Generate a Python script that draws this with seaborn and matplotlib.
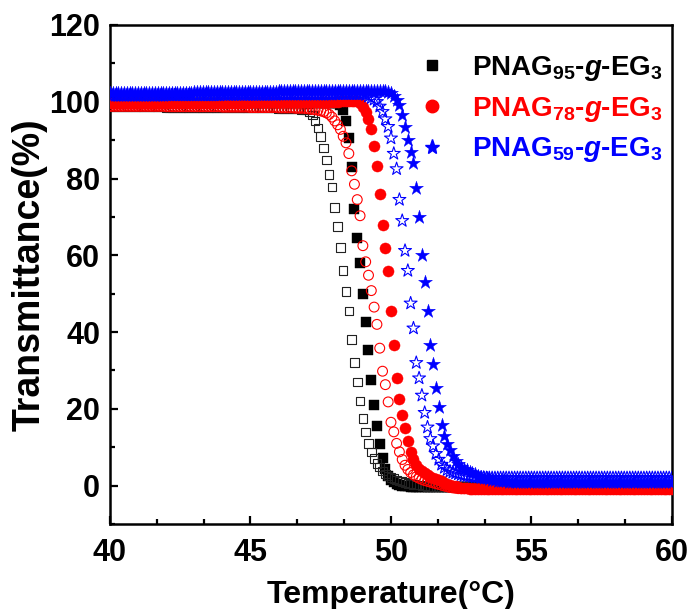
import numpy as np
import pandas as pd
import matplotlib
matplotlib.use("Agg")
import matplotlib.pyplot as plt
from matplotlib.lines import Line2D
from matplotlib.ticker import AutoMinorLocator
import seaborn as sns

# ---------------- data ----------------
# temperature sampling grid: 40.0 ... 60.0 °C every 0.1 °C (201 points)
temperature = np.round(np.linspace(40.0, 60.0, 201), 1)

# PNAG95-g-EG3, filled squares
black_filled = [
    99.6, 99.6, 99.6, 99.6, 99.6, 99.6, 99.6, 99.6, 99.6, 99.6,   # 40
    99.6, 99.6, 99.6, 99.6, 99.6, 99.6, 99.6, 99.6, 99.6, 99.6,   # 41
    99.7, 99.7, 99.7, 99.7, 99.7, 99.7, 99.7, 99.7, 99.7, 99.7,   # 42
    99.7, 99.7, 99.7, 99.7, 99.7, 99.7, 99.7, 99.7, 99.7, 99.7,   # 43
    99.7, 99.7, 99.7, 99.7, 99.7, 99.7, 99.7, 99.7, 99.7, 99.7,   # 44
    99.8, 99.8, 99.8, 99.8, 99.8, 99.8, 99.8, 99.8, 99.8, 99.8,   # 45
    99.8, 99.8, 99.8, 99.8, 99.8, 99.8, 99.8, 99.8, 99.8, 99.8,   # 46
    99.8, 99.8, 99.8, 99.8, 99.8, 99.8, 99.8, 99.8, 99.8, 99.8,   # 47
    99.8, 99.6, 99.2, 97.8, 95.0, 90.5, 83.0, 72.0, 64.5, 58.0,   # 48
    50.0, 42.6, 35.3, 27.5, 21.0, 15.5, 10.8, 7.2, 4.3, 2.4,      # 49
    1.5, 0.9, 0.5, 0.2, 0.0, -0.1, -0.2, -0.3, -0.3, -0.4,        # 50
    -0.4, -0.4, -0.4, -0.4, -0.4, -0.4, -0.4, -0.4, -0.4, -0.4,   # 51
    -0.4, -0.4, -0.4, -0.4, -0.4, -0.4, -0.4, -0.4, -0.4, -0.4,   # 52
    -0.4, -0.4, -0.4, -0.4, -0.4, -0.4, -0.4, -0.4, -0.4, -0.4,   # 53
    -0.4, -0.4, -0.4, -0.4, -0.4, -0.4, -0.4, -0.4, -0.4, -0.4,   # 54
    -0.4, -0.4, -0.4, -0.4, -0.4, -0.4, -0.4, -0.4, -0.4, -0.4,   # 55
    -0.4, -0.4, -0.4, -0.4, -0.4, -0.4, -0.4, -0.4, -0.4, -0.4,   # 56
    -0.4, -0.4, -0.4, -0.4, -0.4, -0.4, -0.4, -0.4, -0.4, -0.4,   # 57
    -0.4, -0.4, -0.4, -0.4, -0.4, -0.4, -0.4, -0.4, -0.4, -0.4,   # 58
    -0.4, -0.4, -0.4, -0.4, -0.4, -0.4, -0.4, -0.4, -0.4, -0.4,   # 59
    -0.4,                                                         # 60
]

# PNAG95-g-EG3, open squares
black_open = [
    98.6, 98.6, 98.6, 98.6, 98.6, 98.6, 98.6, 98.6, 98.6, 98.6,   # 40
    98.6, 98.6, 98.6, 98.6, 98.6, 98.6, 98.6, 98.6, 98.6, 98.6,   # 41
    98.5, 98.5, 98.5, 98.5, 98.5, 98.5, 98.5, 98.5, 98.5, 98.5,   # 42
    98.5, 98.5, 98.5, 98.5, 98.5, 98.5, 98.5, 98.5, 98.5, 98.5,   # 43
    98.4, 98.4, 98.4, 98.4, 98.4, 98.4, 98.4, 98.4, 98.4, 98.4,   # 44
    98.4, 98.4, 98.4, 98.4, 98.4, 98.4, 98.4, 98.4, 98.4, 98.4,   # 45
    98.3, 98.3, 98.3, 98.2, 98.2, 98.2, 98.1, 98.1, 98.0, 97.9,   # 46
    97.8, 97.3, 96.6, 95.0, 93.2, 91.0, 88.0, 84.8, 81.0, 77.8,   # 47
    72.5, 67.5, 62.0, 56.0, 50.5, 45.5, 38.0, 32.0, 27.0, 22.0,   # 48
    17.5, 14.0, 11.0, 8.8, 7.0, 5.8, 4.8, 3.8, 3.0, 2.5,          # 49
    2.1, 1.8, 1.5, 1.2, 1.0, 0.8, 0.6, 0.4, 0.3, 0.2,             # 50
    0.1, 0.0, -0.1, -0.2, -0.3, -0.3, -0.3, -0.3, -0.3, -0.3,     # 51
    -0.3, -0.3, -0.3, -0.3, -0.3, -0.3, -0.3, -0.3, -0.3, -0.3,   # 52
    -0.3, -0.3, -0.3, -0.3, -0.3, -0.3, -0.3, -0.3, -0.3, -0.3,   # 53
    -0.3, -0.3, -0.3, -0.3, -0.3, -0.3, -0.3, -0.3, -0.3, -0.3,   # 54
    -0.3, -0.3, -0.3, -0.3, -0.3, -0.3, -0.3, -0.3, -0.3, -0.3,   # 55
    -0.3, -0.3, -0.3, -0.3, -0.3, -0.3, -0.3, -0.3, -0.3, -0.3,   # 56
    -0.3, -0.3, -0.3, -0.3, -0.3, -0.3, -0.3, -0.3, -0.3, -0.3,   # 57
    -0.3, -0.3, -0.3, -0.3, -0.3, -0.3, -0.3, -0.3, -0.3, -0.3,   # 58
    -0.3, -0.3, -0.3, -0.3, -0.3, -0.3, -0.3, -0.3, -0.3, -0.3,   # 59
    -0.3,                                                         # 60
]

# PNAG78-g-EG3, filled circles
red_filled = [
    99.6, 99.6, 99.6, 99.6, 99.6, 99.6, 99.6, 99.6, 99.6, 99.6,   # 40
    99.7, 99.7, 99.7, 99.7, 99.7, 99.7, 99.7, 99.7, 99.7, 99.7,   # 41
    99.7, 99.7, 99.7, 99.7, 99.7, 99.7, 99.7, 99.7, 99.7, 99.7,   # 42
    99.8, 99.8, 99.8, 99.8, 99.8, 99.8, 99.8, 99.8, 99.8, 99.8,   # 43
    99.8, 99.8, 99.8, 99.8, 99.8, 99.8, 99.8, 99.8, 99.8, 99.8,   # 44
    99.9, 99.9, 99.9, 99.9, 99.9, 99.9, 99.9, 99.9, 99.9, 99.9,   # 45
    99.9, 99.9, 99.9, 99.9, 99.9, 99.9, 99.9, 99.9, 99.9, 99.9,   # 46
    100.0, 100.0, 100.0, 100.0, 100.0, 100.0, 100.0, 100.0, 100.0, 100.0,  # 47
    100.0, 100.0, 100.1, 100.1, 100.1, 100.1, 100.1, 100.2, 100.1, 99.6,  # 48
    98.7, 97.3, 95.4, 92.8, 88.5, 83.2, 76.0, 68.0, 62.0, 56.0,   # 49
    45.5, 36.5, 28.0, 22.5, 18.5, 15.0, 11.5, 8.8, 6.8, 5.3,      # 50
    4.4, 3.8, 3.2, 2.7, 2.3, 2.0, 1.7, 1.4, 1.1, 0.8,             # 51
    0.5, 0.2, 0.0, -0.2, -0.4, -0.5, -0.6, -0.7, -0.8, -0.8,      # 52
    -0.8, -0.8, -0.8, -0.8, -0.8, -0.8, -0.8, -0.8, -0.8, -0.8,   # 53
    -0.8, -0.8, -0.8, -0.8, -0.8, -0.8, -0.8, -0.8, -0.8, -0.8,   # 54
    -0.8, -0.8, -0.8, -0.8, -0.8, -0.8, -0.8, -0.8, -0.8, -0.8,   # 55
    -0.8, -0.8, -0.8, -0.8, -0.8, -0.8, -0.8, -0.8, -0.8, -0.8,   # 56
    -0.8, -0.8, -0.8, -0.8, -0.8, -0.8, -0.8, -0.8, -0.8, -0.8,   # 57
    -0.8, -0.8, -0.8, -0.8, -0.8, -0.8, -0.8, -0.8, -0.8, -0.8,   # 58
    -0.8, -0.8, -0.8, -0.8, -0.8, -0.8, -0.8, -0.8, -0.8, -0.8,   # 59
    -0.8,                                                         # 60
]

# PNAG78-g-EG3, open circles
red_open = [
    98.8, 98.8, 98.8, 98.8, 98.8, 98.8, 98.8, 98.8, 98.8, 98.8,   # 40
    98.8, 98.8, 98.8, 98.8, 98.8, 98.8, 98.8, 98.8, 98.8, 98.8,   # 41
    98.7, 98.7, 98.7, 98.7, 98.7, 98.7, 98.7, 98.7, 98.7, 98.7,   # 42
    98.7, 98.7, 98.7, 98.7, 98.7, 98.7, 98.7, 98.7, 98.7, 98.7,   # 43
    98.6, 98.6, 98.6, 98.6, 98.6, 98.6, 98.6, 98.6, 98.6, 98.6,   # 44
    98.5, 98.5, 98.5, 98.5, 98.5, 98.5, 98.5, 98.5, 98.5, 98.5,   # 45
    98.4, 98.4, 98.4, 98.4, 98.4, 98.4, 98.3, 98.3, 98.3, 98.3,   # 46
    98.2, 98.1, 98.0, 97.9, 97.8, 97.6, 97.4, 97.1, 96.7, 96.0,   # 47
    95.0, 94.0, 92.8, 91.0, 89.3, 86.5, 82.0, 78.5, 74.5, 70.3,   # 48
    62.5, 58.3, 54.8, 50.8, 46.5, 42.0, 35.8, 29.8, 26.3, 21.8,   # 49
    16.5, 14.0, 11.0, 8.8, 6.8, 5.3, 4.2, 3.4, 2.8, 2.3,          # 50
    1.9, 1.6, 1.3, 1.1, 0.9, 0.7, 0.5, 0.3, 0.1, -0.1,            # 51
    -0.3, -0.5, -0.6, -0.7, -0.8, -0.8, -0.8, -0.8, -0.8, -0.8,   # 52
    -0.8, -0.8, -0.8, -0.8, -0.8, -0.8, -0.8, -0.8, -0.8, -0.8,   # 53
    -0.8, -0.8, -0.8, -0.8, -0.8, -0.8, -0.8, -0.8, -0.8, -0.8,   # 54
    -0.8, -0.8, -0.8, -0.8, -0.8, -0.8, -0.8, -0.8, -0.8, -0.8,   # 55
    -0.8, -0.8, -0.8, -0.8, -0.8, -0.8, -0.8, -0.8, -0.8, -0.8,   # 56
    -0.8, -0.8, -0.8, -0.8, -0.8, -0.8, -0.8, -0.8, -0.8, -0.8,   # 57
    -0.8, -0.8, -0.8, -0.8, -0.8, -0.8, -0.8, -0.8, -0.8, -0.8,   # 58
    -0.8, -0.8, -0.8, -0.8, -0.8, -0.8, -0.8, -0.8, -0.8, -0.8,   # 59
    -0.8,                                                         # 60
]

# PNAG59-g-EG3, filled stars
blue_filled = [
    102.2, 102.2, 102.2, 102.2, 102.2, 102.2, 102.2, 102.2, 102.2, 102.2,  # 40
    102.3, 102.3, 102.3, 102.3, 102.3, 102.3, 102.3, 102.3, 102.3, 102.3,  # 41
    102.4, 102.4, 102.4, 102.4, 102.4, 102.4, 102.4, 102.4, 102.4, 102.4,  # 42
    102.5, 102.5, 102.5, 102.5, 102.5, 102.5, 102.5, 102.5, 102.5, 102.5,  # 43
    102.6, 102.6, 102.6, 102.6, 102.6, 102.6, 102.6, 102.6, 102.6, 102.6,  # 44
    102.6, 102.6, 102.6, 102.6, 102.6, 102.6, 102.6, 102.6, 102.6, 102.6,  # 45
    102.7, 102.7, 102.7, 102.7, 102.7, 102.7, 102.7, 102.7, 102.7, 102.7,  # 46
    102.8, 102.8, 102.8, 102.8, 102.8, 102.8, 102.8, 102.8, 102.8, 102.8,  # 47
    102.8, 102.8, 102.8, 102.8, 102.8, 102.8, 102.8, 102.8, 102.8, 102.8,  # 48
    102.9, 102.9, 102.9, 102.9, 102.9, 102.9, 102.9, 102.9, 102.8, 102.6,  # 49
    102.2, 101.5, 100.5, 99.2, 96.5, 93.4, 90.0, 87.0, 84.0, 77.5,        # 50
    70.0, 60.0, 53.0, 45.5, 36.5, 31.6, 25.5, 20.5, 15.8, 12.8,           # 51
    10.8, 9.2, 7.8, 6.4, 5.5, 4.8, 4.4, 4.0, 3.6, 3.2,                    # 52
    2.9, 2.6, 2.3, 2.1, 1.9, 1.7, 1.5, 1.4, 1.3, 1.2,                     # 53
    1.1, 1.1, 1.0, 1.0, 1.0, 1.0, 1.0, 1.0, 1.0, 1.0,                     # 54
    1.0, 1.0, 1.0, 1.0, 1.0, 1.0, 1.0, 1.0, 1.0, 1.0,                     # 55
    1.0, 1.0, 1.0, 1.0, 1.0, 1.0, 1.0, 1.0, 1.0, 1.0,                     # 56
    1.0, 1.0, 1.0, 1.0, 1.0, 1.0, 1.0, 1.0, 1.0, 1.0,                     # 57
    1.0, 1.0, 1.0, 1.0, 1.0, 1.0, 1.0, 1.0, 1.0, 1.0,                     # 58
    1.0, 1.0, 1.0, 1.0, 1.0, 1.0, 1.0, 1.0, 1.0, 1.0,                     # 59
    1.0,                                                                  # 60
]

# PNAG59-g-EG3, open stars
blue_open = [
    101.6, 101.6, 101.6, 101.6, 101.6, 101.6, 101.6, 101.6, 101.6, 101.6,  # 40
    101.6, 101.6, 101.6, 101.6, 101.6, 101.6, 101.6, 101.6, 101.6, 101.6,  # 41
    101.7, 101.7, 101.7, 101.7, 101.7, 101.7, 101.7, 101.7, 101.7, 101.7,  # 42
    101.7, 101.7, 101.7, 101.7, 101.7, 101.7, 101.7, 101.7, 101.7, 101.7,  # 43
    101.8, 101.8, 101.8, 101.8, 101.8, 101.8, 101.8, 101.8, 101.8, 101.8,  # 44
    101.8, 101.8, 101.8, 101.8, 101.8, 101.8, 101.8, 101.8, 101.8, 101.8,  # 45
    101.9, 101.9, 101.9, 101.9, 101.9, 101.9, 101.9, 101.9, 101.9, 101.9,  # 46
    101.9, 101.9, 101.9, 101.9, 101.9, 101.9, 101.9, 101.9, 101.9, 101.9,  # 47
    102.0, 102.0, 102.0, 102.0, 102.0, 102.0, 102.0, 102.0, 102.0, 102.0,  # 48
    102.0, 101.8, 101.4, 101.0, 100.6, 100.0, 98.8, 97.4, 95.5, 93.5,     # 49
    90.5, 86.5, 82.5, 74.5, 69.0, 61.2, 56.0, 47.5, 41.0, 32.0,           # 50
    28.0, 23.5, 19.0, 15.2, 12.2, 10.3, 8.3, 6.8, 5.5, 4.7,               # 51
    4.1, 3.7, 3.4, 3.2, 3.0, 2.8, 2.6, 2.5, 2.4, 2.3,                     # 52
    2.2, 2.2, 2.1, 2.1, 2.0, 2.0, 2.0, 2.0, 2.0, 2.0,                     # 53
    2.0, 2.0, 2.0, 2.0, 2.0, 2.0, 2.0, 2.0, 2.0, 2.0,                     # 54
    2.0, 2.0, 2.0, 2.0, 2.0, 2.0, 2.0, 2.0, 2.0, 2.0,                     # 55
    2.0, 2.0, 2.0, 2.0, 2.0, 2.0, 2.0, 2.0, 2.0, 2.0,                     # 56
    2.0, 2.0, 2.0, 2.0, 2.0, 2.0, 2.0, 2.0, 2.0, 2.0,                     # 57
    2.0, 2.0, 2.0, 2.0, 2.0, 2.0, 2.0, 2.0, 2.0, 2.0,                     # 58
    2.0, 2.0, 2.0, 2.0, 2.0, 2.0, 2.0, 2.0, 2.0, 2.0,                     # 59
    2.0,                                                                  # 60
]

legend_labels = [
    r"PNAG$_{95}$-$\mathit{g}$-EG$_{3}$",
    r"PNAG$_{78}$-$\mathit{g}$-EG$_{3}$",
    r"PNAG$_{59}$-$\mathit{g}$-EG$_{3}$",
]
x_ticks = [40, 45, 50, 55, 60]
y_ticks = [0, 20, 40, 60, 80, 100, 120]

# ---------------- style ----------------
sns.set_style("ticks")
plt.rcParams["font.family"] = ["Liberation Sans", "DejaVu Sans"]
plt.rcParams["font.weight"] = "bold"
plt.rcParams["axes.labelweight"] = "bold"
plt.rcParams["text.color"] = "black"
plt.rcParams["axes.labelcolor"] = "black"
plt.rcParams["axes.edgecolor"] = "black"
plt.rcParams["xtick.color"] = "black"
plt.rcParams["ytick.color"] = "black"
plt.rcParams["mathtext.fontset"] = "custom"
plt.rcParams["mathtext.rm"] = "Liberation Sans:bold"
plt.rcParams["mathtext.it"] = "Liberation Sans:italic:bold"
plt.rcParams["mathtext.bf"] = "Liberation Sans:bold"

BLACK, RED, BLUE = "#000000", "#FF0000", "#0000FF"

fig = plt.figure(figsize=(6.96, 6.09), dpi=100)
ax = fig.add_axes([0.158, 0.1396, 0.8075, 0.8194])

series = [
    ("black_filled", black_filled, "s", BLACK, True, 44),
    ("black_open", black_open, "s", "#222222", False, 38),
    ("red_filled", red_filled, "o", RED, True, 64),
    ("red_open", red_open, "o", RED, False, 50),
    ("blue_filled", blue_filled, "*", BLUE, True, 110),
    ("blue_open", blue_open, "*", BLUE, False, 95),
]

for name, vals, mk, col, filled, size in series:
    df = pd.DataFrame({"T": temperature, "Tr": vals})
    if filled:
        sns.scatterplot(data=df, x="T", y="Tr", ax=ax, marker=mk, s=size,
                        color=col, edgecolor=col, linewidth=0.3, zorder=3)
    else:
        sns.scatterplot(data=df, x="T", y="Tr", ax=ax, marker=mk, s=size,
                        facecolors="none", edgecolor=col, linewidth=0.8,
                        zorder=3)

ax.set_xlim(40, 60)
ax.set_ylim(-10, 120)
ax.set_xticks(x_ticks)
ax.set_yticks(y_ticks)
ax.xaxis.set_minor_locator(AutoMinorLocator(3))
ax.yaxis.set_minor_locator(AutoMinorLocator(2))
ax.tick_params(which="both", direction="in", top=False, right=False,
               width=1.6, labelsize=22, color="black", labelcolor="black")
ax.tick_params(which="major", length=6)
ax.tick_params(which="minor", length=3.5)
ax.tick_params(axis="x", pad=10)
ax.tick_params(axis="y", pad=7)
for lab in ax.get_xticklabels() + ax.get_yticklabels():
    lab.set_fontweight("bold")
for sp in ax.spines.values():
    sp.set_linewidth(1.8)
    sp.set_color("black")
    sp.set_visible(True)

ax.set_xlabel("Temperature(°C)", fontsize=23, fontweight="bold", labelpad=9,
              color="black")
ax.set_ylabel("Transmittance(%)", fontsize=27, fontweight="bold", labelpad=1,
              color="black")

handles = [
    Line2D([], [], linestyle="none", marker="s", markersize=7,
           markerfacecolor=BLACK, markeredgecolor=BLACK),
    Line2D([], [], linestyle="none", marker="o", markersize=9,
           markerfacecolor=RED, markeredgecolor=RED),
    Line2D([], [], linestyle="none", marker="*", markersize=11,
           markerfacecolor=BLUE, markeredgecolor=BLUE),
]
leg = ax.legend(handles, legend_labels, loc="upper right",
                bbox_to_anchor=(1.013, 0.975), frameon=False,
                prop={"size": 20, "weight": "bold"},
                labelcolor=[BLACK, RED, BLUE], handletextpad=0.95,
                labelspacing=0.42, handlelength=1.0, borderaxespad=0.2)

fig.savefig("out.png", dpi=100)
